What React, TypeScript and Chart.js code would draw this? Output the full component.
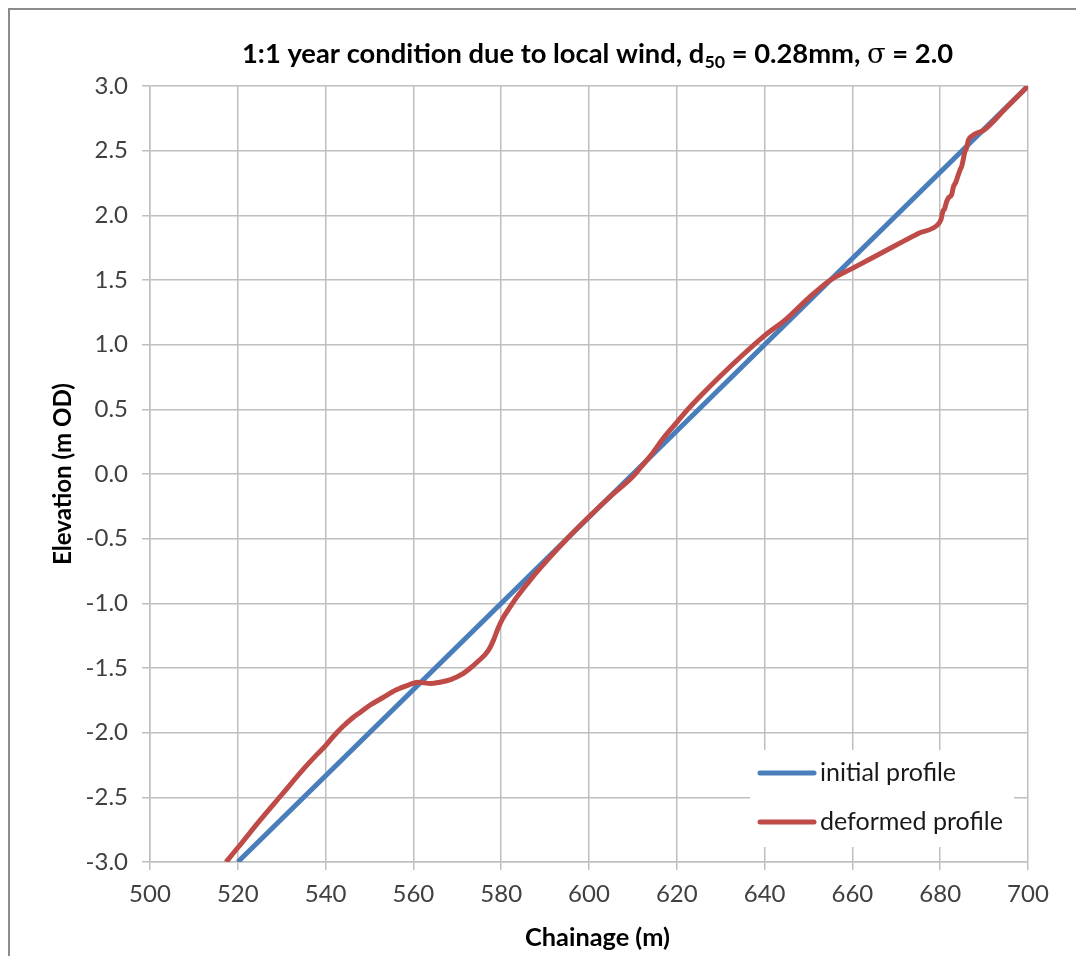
import React, { useEffect, useRef } from "react";
import { Chart, registerables } from "chart.js";

Chart.register(...registerables);

// ---- data ----
const initialX = [520, 700];
const initialY = [-3.0, 3.0];

const deformedX = [
  517.3, 520, 525, 530, 535, 538, 540, 542, 544, 546, 548, 550, 553, 556, 559,
  561, 564, 566, 568.5, 571, 573, 575, 576.5, 577.5, 578.3, 579.2, 580.3, 582,
  583.6, 586.6, 590.4, 595, 600, 605, 610, 612, 614, 617, 620, 622.5, 625, 630,
  635, 640, 645, 650, 655, 660, 665, 670, 675, 679.5, 680.2, 680.6, 681.0,
  681.5, 682.0, 682.6, 683.0, 683.6, 684.0, 684.5, 684.9, 685.3, 685.6, 686.0,
  686.4, 687.5, 690, 695, 700,
];
const deformedY = [
  -3.0, -2.89, -2.68, -2.48, -2.28, -2.17, -2.1, -2.02, -1.95, -1.89, -1.84,
  -1.79, -1.73, -1.67, -1.63, -1.61, -1.62, -1.61, -1.59, -1.55, -1.5, -1.44,
  -1.39, -1.34, -1.28, -1.2, -1.12, -1.03, -0.95, -0.82, -0.67, -0.5, -0.33,
  -0.17, -0.02, 0.06, 0.14, 0.28, 0.4, 0.5, 0.59, 0.76, 0.92, 1.07, 1.2, 1.36,
  1.5, 1.59, 1.68, 1.77, 1.86, 1.93, 1.97, 2.03, 2.05, 2.11, 2.14, 2.16, 2.22,
  2.26, 2.3, 2.35, 2.38, 2.44, 2.49, 2.52, 2.58, 2.62, 2.66, 2.83, 3.0,
];

const seriesLabels = ["initial profile", "deformed profile"];
const xRange = [500, 700];
const xStep = 20;
const yRange = [-3.0, 3.0];
const yStep = 0.5;

const titleMain = "1:1 year condition due to local wind, d";
const titleSub = "50";
const titleMid = " = 0.28mm, ";
const titleSigma = "\u03c3";
const titleEnd = " = 2.0";
const xTitle = "Chainage (m)";
const yTitle = "Elevation (m OD)";

// ---- styles ----
const BLUE = "#4a7ebb";
const RED = "#be4b48";
const GRID = "#bfbfbf";
const TICK_COLOR = "#404040";
const FONT = "Lato";

function fitSize(ctx: CanvasRenderingContext2D, text: string, weight: string, target: number) {
  ctx.font = `${weight} 100px ${FONT}`;
  const w = ctx.measureText(text).width;
  return (100 * target) / w;
}

const decorPlugin = {
  id: "decor",
  afterDraw(chart: any) {
    const ctx: CanvasRenderingContext2D = chart.ctx;
    const area = chart.chartArea;
    ctx.save();

    // outer frame (left and top edges visible)
    ctx.strokeStyle = "#8c8c8c";
    ctx.lineWidth = 2;
    ctx.beginPath();
    ctx.moveTo(1, chart.height);
    ctx.lineTo(1, 1);
    ctx.lineTo(chart.width, 1);
    ctx.stroke();

    // title with subscript
    ctx.font = `bold 100px ${FONT}`;
    const w1 = ctx.measureText(titleMain).width;
    const w3 = ctx.measureText(titleMid).width;
    const w5 = ctx.measureText(titleEnd).width;
    ctx.font = `bold 65px ${FONT}`;
    const w2 = ctx.measureText(titleSub).width;
    ctx.font = `100px "DejaVu Serif"`;
    const w4 = ctx.measureText(titleSigma).width;
    const total = w1 + w2 + w3 + w4 + w5;
    const s = 711 / total;
    const size = 100 * s;
    let x = (area.left + area.right) / 2 + 8.5 - 355.5;
    const base = 54.5;
    ctx.fillStyle = "#000";
    ctx.textBaseline = "alphabetic";
    ctx.textAlign = "left";
    ctx.font = `bold ${size}px ${FONT}`;
    ctx.fillText(titleMain, x, base);
    x += w1 * s;
    ctx.font = `bold ${size * 0.65}px ${FONT}`;
    ctx.fillText(titleSub, x, base + size * 0.2);
    x += w2 * s;
    ctx.font = `bold ${size}px ${FONT}`;
    ctx.fillText(titleMid, x, base);
    x += w3 * s;
    ctx.font = `${size}px "DejaVu Serif"`;
    ctx.fillText(titleSigma, x, base);
    x += w4 * s;
    ctx.font = `bold ${size}px ${FONT}`;
    ctx.fillText(titleEnd, x, base);

    // axis titles
    const xs = fitSize(ctx, xTitle, "bold", 145);
    ctx.font = `bold ${xs}px ${FONT}`;
    ctx.textAlign = "center";
    ctx.textBaseline = "middle";
    ctx.fillText(xTitle, (area.left + area.right) / 2 + 8.5, area.bottom + 76);

    const ys = fitSize(ctx, yTitle, "bold", 182);
    ctx.font = `bold ${ys}px ${FONT}`;
    ctx.save();
    ctx.translate(area.left - 87, 466);
    ctx.rotate(-Math.PI / 2);
    ctx.fillText(yTitle, 0, 0);
    ctx.restore();

    // legend
    const lx = area.right - 278;
    const ly = area.bottom - 112;
    ctx.fillStyle = "#ffffff";
    ctx.fillRect(lx, ly, 264, 97);
    const ls = fitSize(ctx, seriesLabels[1], "normal", 183);
    ctx.font = `${ls}px ${FONT}`;
    ctx.textAlign = "left";
    ctx.textBaseline = "middle";
    chart.data.datasets.forEach((ds: any, i: number) => {
      const yy = ly + 23 + i * 49;
      ctx.strokeStyle = ds.borderColor;
      ctx.lineWidth = 5;
      ctx.lineCap = "round";
      ctx.beginPath();
      ctx.moveTo(lx + 10, yy);
      ctx.lineTo(lx + 64, yy);
      ctx.stroke();
      ctx.fillStyle = "#1a1a1a";
      ctx.fillText(ds.label, lx + 70, yy);
    });

    ctx.restore();
  },
};

export default function App() {
  const ref = useRef<HTMLCanvasElement>(null);
  useEffect(() => {
    document.body.style.overflow = "hidden";
    const canvas = ref.current!;
    const chart = new Chart(canvas, {
      type: "line",
      data: {
        datasets: [
          {
            label: seriesLabels[0],
            data: initialX.map((x, i) => ({ x, y: initialY[i] })),
            borderColor: BLUE,
            backgroundColor: BLUE,
            borderWidth: 5,
            pointRadius: 0,
            tension: 0,
            order: 1,
          },
          {
            label: seriesLabels[1],
            data: deformedX.map((x, i) => ({ x, y: deformedY[i] })),
            borderColor: RED,
            backgroundColor: RED,
            borderWidth: 5,
            pointRadius: 0,
            cubicInterpolationMode: "monotone",
            order: 0,
          },
        ],
      },
      options: {
        responsive: false,
        animation: false,
        layout: { padding: { left: 0, top: 78, right: 56, bottom: 54 } },
        plugins: {
          legend: { display: false },
          title: { display: false },
          tooltip: { enabled: false },
        },
        scales: {
          x: {
            type: "linear",
            min: xRange[0],
            max: xRange[1],
            ticks: {
              stepSize: xStep,
              color: TICK_COLOR,
              font: { family: FONT, size: 24 },
              padding: 10,
              maxRotation: 0,
              autoSkip: false,
            },
            grid: { color: GRID, lineWidth: 1.5, tickLength: 8 },
            border: { color: GRID, width: 1.5 },
            afterFit: (s: any) => {
              s.height = 40;
            },
          },
          y: {
            type: "linear",
            min: yRange[0],
            max: yRange[1],
            ticks: {
              stepSize: yStep,
              color: TICK_COLOR,
              font: { family: FONT, size: 24 },
              padding: 14,
              callback: (v: any) => Number(v).toFixed(1),
            },
            grid: { color: GRID, lineWidth: 1.5, tickLength: 8 },
            border: { color: GRID, width: 1.5 },
            afterFit: (s: any) => {
              s.width = 142;
            },
          },
        },
      },
      plugins: [decorPlugin],
    });
    return () => chart.destroy();
  }, []);
  return (
    <div style={{ width: 1076, height: 948 }}>
      <canvas ref={ref} width={1076} height={948} style={{ display: "block" }} />
    </div>
  );
}
